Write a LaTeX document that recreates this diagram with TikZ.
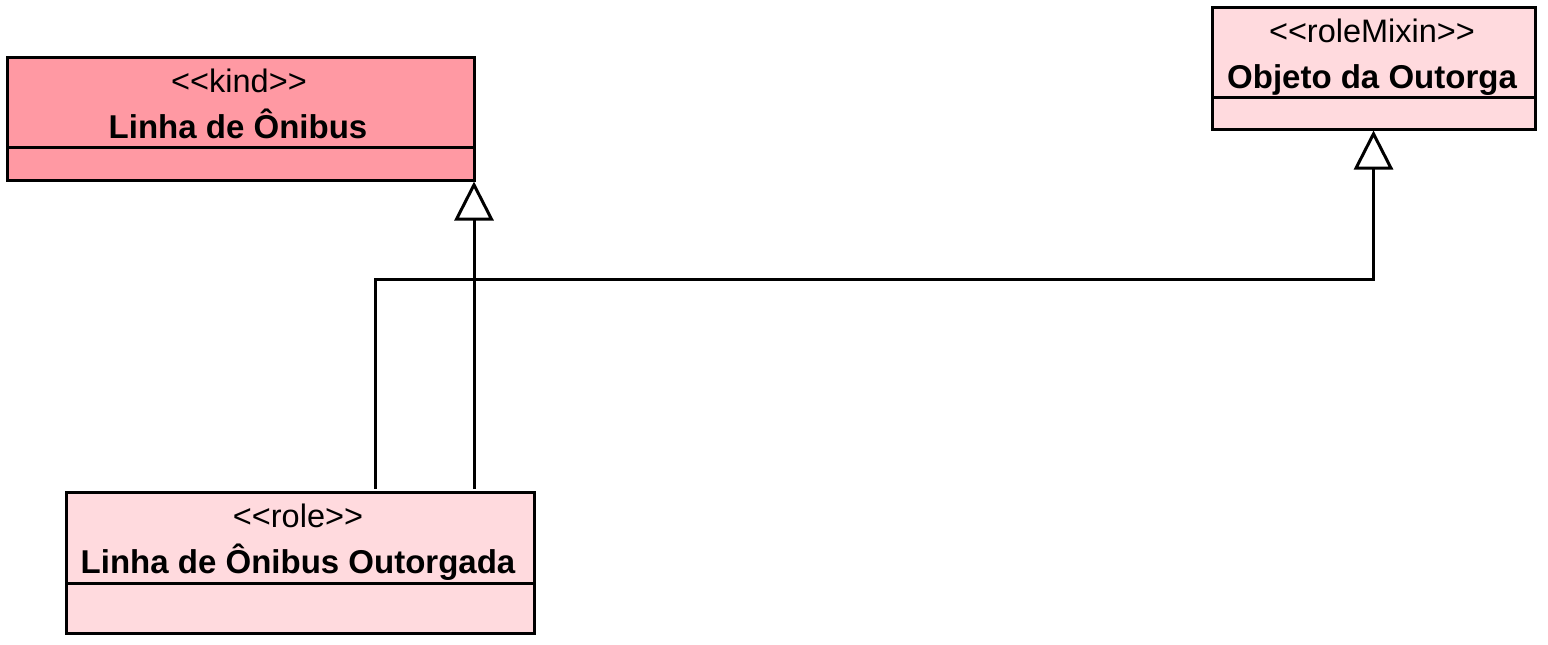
\documentclass[tikz,border=0pt]{standalone}
\usepackage{fontspec}
\setmainfont{Liberation Sans}
\usetikzlibrary{arrows.meta}
\definecolor{kindfill}{RGB}{255,153,163}
\definecolor{rolefill}{RGB}{255,218,222}
\tikzset{
  umlbox/.style={draw=black, line width=3pt, rectangle, inner sep=0pt, outer sep=0pt},
  stereo/.style={anchor=base, inner sep=0pt, font=\fontsize{32.5}{38}\selectfont},
  cname/.style={anchor=base, inner sep=0pt, font=\fontsize{33}{38}\selectfont\bfseries},
  divider/.style={line width=3pt},
  gen/.style={line width=3pt, shorten >=1.5pt, -{Triangle[length=39pt,width=39pt,fill=white]}}
}
\begin{document}
\begin{tikzpicture}[x=1pt,y=-1pt]
\useasboundingbox (0,0) rectangle (1548,645);
% boxes
\node[umlbox, fill=kindfill, minimum width=467pt, minimum height=123pt] (kind) at (240.5,118.5) {};
\node[umlbox, fill=rolefill, minimum width=323pt, minimum height=122pt] (mixin) at (1373.5,68) {};
\node[umlbox, fill=rolefill, minimum width=468pt, minimum height=141pt] (role) at (300,562.5) {};
% dividers
\draw[divider] (kind.west |- 0,147) -- (kind.east |- 0,147);
\draw[divider] (mixin.west |- 0,97) -- (mixin.east |- 0,97);
\draw[divider] (role.west |- 0,583) -- (role.east |- 0,583);
% texts
\node[stereo] (kindS) at (239,92) {<{}<kind>{}>};
\node[cname] (kindN) at (238,138.5) {Linha de Ônibus};
\node[stereo] (mixinS) at (1372,42) {<{}<roleMixin>{}>};
\node[cname] (mixinN) at (1372,88.5) {Objeto da Outorga};
\node[stereo] (roleS) at (298,527) {<{}<role>{}>};
\node[cname] (roleN) at (298,573.5) {Linha de Ônibus Outorgada};
% connectors
\coordinate (s1) at ([yshift=3pt]role.north -| kind.east);
\coordinate (s2) at ([yshift=3pt]role.north -| 375,0);
\coordinate (b2) at (375,279);
\draw[gen] (s1) -- (kind.south east);
\draw[gen] (s2) -- (b2) -| (mixin.south);
\end{tikzpicture}
\end{document}
